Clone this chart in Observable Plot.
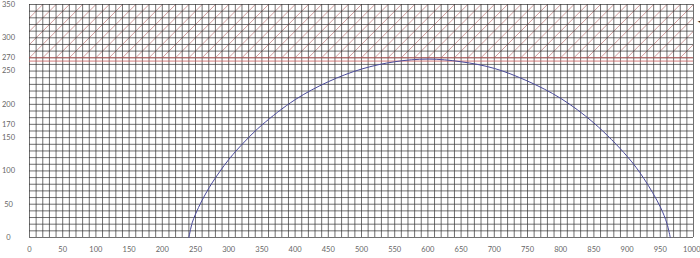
<!DOCTYPE html>
<html><head><meta charset="utf-8">
<script src="https://cdn.jsdelivr.net/npm/d3@7"></script>
<script src="https://cdn.jsdelivr.net/npm/@observablehq/plot@0.6"></script>
<style>body{margin:0;background:#fff;} svg{display:block;}</style>
</head><body><div id="chart"></div>
<script>
const xTicks = [0,50,100,150,200,250,300,350,400,450,500,550,600,650,700,750,800,850,900,950,1000];
const yTicks = [0,50,100,150,170,200,250,270,300,350];
const curveX = [240,245,250,260,275,300,325,350,400,450,500,550,600,650,700,750,800,850,900,925,950,960,965];
const curveY = [0,22,35,56,82,117,145,169,207,234,253,264,268,264,254,235,209,172,122,89,46,21,0];
const limitLines = [270,265];
const hatchBand = [270,350];
const gridStep = 10;
const hatchStep = 20;
const hatchRun = 80;
const arrowAt = [{x:1000, y:324}];

const curve = curveX.map((x,i)=>({x, y: curveY[i]}));
const gridXs = d3.range(0, 1000 + gridStep, gridStep);
const gridYs = d3.range(0, 350 + gridStep, gridStep);
const hatch = d3.range(-hatchRun, 1000 + hatchStep, hatchStep).map(x => ({x1:x, y1:hatchBand[0], x2:x+hatchRun, y2:hatchBand[1]}));
const lastTick = xTicks[xTicks.length - 1];

const font = "Lato, 'DejaVu Sans', sans-serif";
const chart = Plot.plot({
  width: 700, height: 258,
  marginLeft: 29, marginRight: 7, marginTop: 4, marginBottom: 21,
  style: {fontFamily: font, fontSize: "7.5px", color: "#666", background: "#fff"},
  x: {domain: [0,1000]},
  y: {domain: [0,350]},
  marks: [
    Plot.link(hatch, {x1:"x1", y1:"y1", x2:"x2", y2:"y2", stroke:"#b05a5a", strokeWidth:0.8, strokeOpacity:0.75, clip:true}),
    Plot.ruleX(gridXs, {stroke:"#333", strokeWidth:1, strokeOpacity:0.7}),
    Plot.ruleY(gridYs, {stroke:"#333", strokeWidth:1, strokeOpacity:0.7}),
    Plot.ruleY(limitLines, {stroke:"#c85a5a", strokeWidth:1, strokeOpacity:0.8}),
    Plot.line(curve, {x:"x", y:"y", stroke:"#4b4b9c", strokeWidth:1, curve:"catmull-rom"}),
    Plot.axisX({ticks: xTicks.slice(0,-1), tickFormat: d => String(d), tickSize: 0, tickPadding: 9, fill: "#666", label: null}),
    Plot.text([lastTick], {x: d => d, frameAnchor: "bottom", text: d => String(d), textAnchor: "end", dx: 7, dy: 14, fill: "#666"}),
    Plot.axisY({ticks: yTicks, tickSize: 0, tickPadding: 21, textAnchor: "middle", fill: "#666", label: null}),
    Plot.text(arrowAt, {x:"x", y:"y", text: () => "◄", dx: 6, fontSize: 5, fill: "#222"})
  ]
});
document.getElementById("chart").append(chart);
</script>
</body></html>
